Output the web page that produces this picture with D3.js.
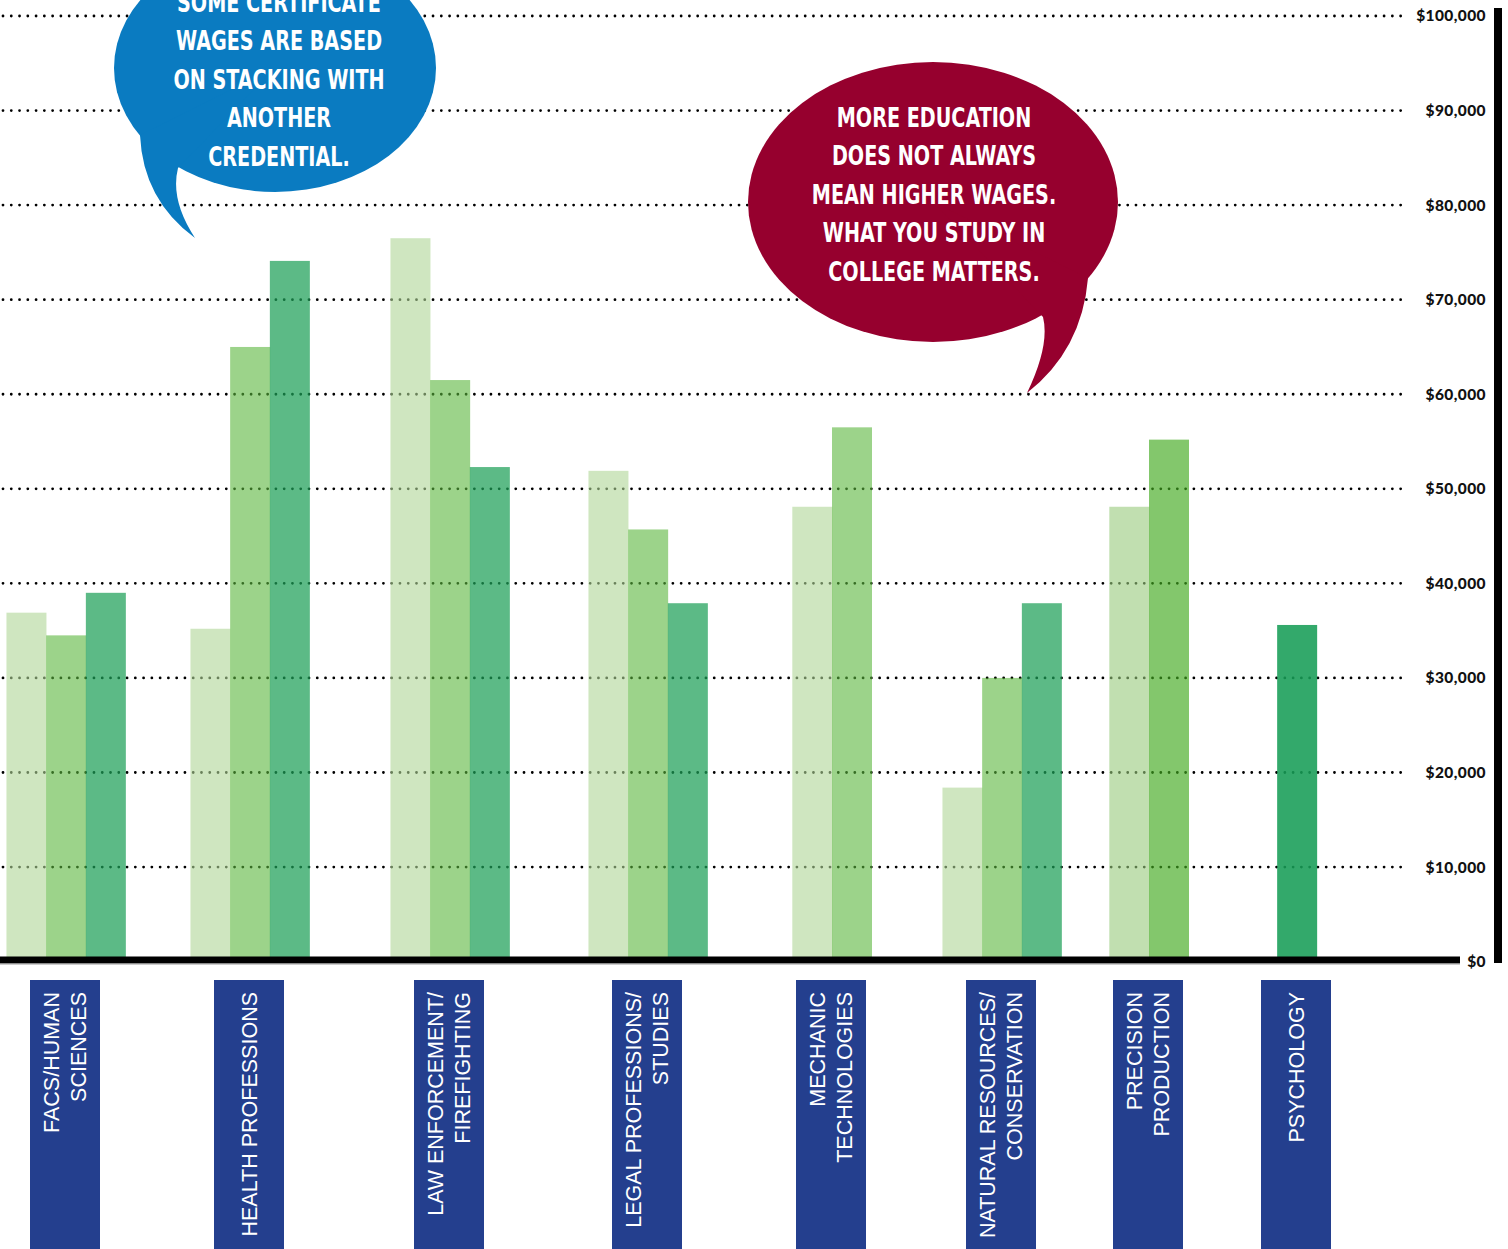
<!DOCTYPE html>
<html>
<head>
<meta charset="utf-8">
<script src="https://cdn.jsdelivr.net/npm/d3@7"></script>
<style>
  body { margin: 0; background: #fff; }
  svg { display: block; }
</style>
</head>
<body>
<svg id="chart" width="1508" height="1249"></svg>
<script>
// datos del grafico (salarios medios por area y nivel)

const categories = ["FACS/HUMAN SCIENCES", "HEALTH PROFESSIONS", "LAW ENFORCEMENT/FIREFIGHTING",
  "LEGAL PROFESSIONS/STUDIES", "MECHANIC TECHNOLOGIES", "NATURAL RESOURCES/CONSERVATION",
  "PRECISION PRODUCTION", "PSYCHOLOGY"];

const labelLines = [
  ["FACS/HUMAN", "SCIENCES"],
  ["HEALTH PROFESSIONS"],
  ["LAW ENFORCEMENT/", "FIREFIGHTING"],
  ["LEGAL PROFESSIONS/", "STUDIES"],
  ["MECHANIC", "TECHNOLOGIES"],
  ["NATURAL RESOURCES/", "CONSERVATION"],
  ["PRECISION", "PRODUCTION"],
  ["PSYCHOLOGY"]
];

const certificate = [36900, 35200, 76500, 51900, 48100, 18400, 48100, null];
const associate   = [34500, 65000, 61500, 45700, 56500, 30000, 55200, null];
const bachelor    = [39000, 74100, 52300, 37900, null, 37900, null, 35600];

const yTicks = [0, 10000, 20000, 30000, 40000, 50000, 60000, 70000, 80000, 90000, 100000];

const blueNote = ["SOME CERTIFICATE", "WAGES ARE BASED", "ON STACKING WITH", "ANOTHER", "CREDENTIAL."];
const redNote = ["MORE EDUCATION", "DOES NOT ALWAYS", "MEAN HIGHER WAGES.", "WHAT YOU STUDY IN", "COLLEGE MATTERS."];

// colores
const seriesColors = ["#cfe6c0", "#9cd38a", "#5cba86"];
const colorOverride = {
  "PRECISION PRODUCTION": ["#c1dfb0", "#82c76c"],
  "PSYCHOLOGY": ["#33a96a"]
};

const svg = d3.select("#chart");

const y = d3.scaleLinear().domain([0, 100000]).range([961.6, 16]);
// los grupos no estan espaciados de forma regular en el original
const x = d3.scaleOrdinal().domain(categories)
  .range([66, 250, 450, 648, 832, 1002, 1149, 1297]);
const barW = 39.7;

// color que, con opacidad a, se ve igual que "target" sobre blanco
function onWhite(target) {
  const c = d3.rgb(target);
  const a = Math.max(0.6, 1 - Math.min(c.r, c.g, c.b) / 255 + 0.08);
  const f = v => Math.max(0, Math.round((v - (1 - a) * 255) / a));
  return { fill: d3.rgb(f(c.r), f(c.g), f(c.b)).formatHex(), alpha: a };
}

// lineas punteadas
svg.append("g").selectAll("line")
  .data(yTicks.filter(d => d > 0))
  .join("line")
  .attr("x1", 3).attr("x2", 1403)
  .attr("y1", d => y(d)).attr("y2", d => y(d))
  .attr("stroke", "#000")
  .attr("stroke-width", 2.8)
  .attr("stroke-linecap", "round")
  .attr("stroke-dasharray", "0 8.27");

// barras
const series = [certificate, associate, bachelor];
const bars = [];
categories.forEach((cat, ci) => {
  const present = [0, 1, 2].filter(s => series[s][ci] != null);
  const over = colorOverride[cat];
  present.forEach((s, k) => {
    bars.push({
      cat: cat,
      value: series[s][ci],
      offset: -present.length * barW / 2 + k * barW,
      color: over ? over[k] : seriesColors[s]
    });
  });
});

svg.append("g").selectAll("rect")
  .data(bars)
  .join("rect")
  .attr("x", d => x(d.cat) + d.offset)
  .attr("y", d => y(d.value))
  .attr("width", barW + 0.3)
  .attr("height", d => y(0) - y(d.value))
  .attr("fill", d => onWhite(d.color).fill)
  .attr("fill-opacity", d => onWhite(d.color).alpha);

// linea base y barra derecha
svg.append("rect").attr("x", 0).attr("y", 956.5).attr("width", 1460).attr("height", 7).attr("fill", "#000");
svg.append("rect").attr("x", 0).attr("y", 963.5).attr("width", 1460).attr("height", 1).attr("fill", "#999");
svg.append("rect").attr("x", 1494).attr("y", 8).attr("width", 8).attr("height", 955).attr("fill", "#000");

// eje y
const axis = svg.append("g")
  .attr("transform", "translate(1486,0)")
  .call(d3.axisLeft(y).tickValues(yTicks).tickFormat(d3.format("$,")).tickSize(0).tickPadding(0));
axis.select(".domain").remove();
axis.selectAll("text")
  .attr("font-family", "Lato, 'Open Sans', sans-serif")
  .attr("font-weight", 900)
  .attr("font-size", 15.5)
  .attr("letter-spacing", 0.4)
  .attr("fill", "#111");

// etiquetas de categorias
const lab = svg.append("g").selectAll("g")
  .data(categories)
  .join("g");

lab.append("rect")
  .attr("x", d => x(d) - 36)
  .attr("y", 980)
  .attr("width", 70)
  .attr("height", 269)
  .attr("fill", "#243f8e");

lab.append("text")
  .attr("transform", d => `translate(${x(d) - 1},992) rotate(-90)`)
  .attr("text-anchor", "end")
  .attr("font-family", "'Liberation Sans', Arial, sans-serif")
  .attr("font-size", 21.5)
  .attr("fill", "#fff")
  .each(function(d, i) {
    const lines = labelLines[i];
    d3.select(this).selectAll("tspan")
      .data(lines)
      .join("tspan")
      .attr("x", 0)
      .attr("y", (l, j) => (j - (lines.length - 1) / 2) * 27 + 0.36 * 21.5)
      .text(l => l);
  });

// globos de texto
function bubble(cx, cy, rx, ry, tail, color, lines, tx, ty) {
  const g = svg.append("g");
  g.append("ellipse")
    .attr("cx", cx).attr("cy", cy).attr("rx", rx).attr("ry", ry)
    .attr("fill", color);
  const p = d3.path();
  p.moveTo(tail[0][0], tail[0][1]);
  p.quadraticCurveTo(tail[1][0], tail[1][1], tail[2][0], tail[2][1]);
  p.quadraticCurveTo(tail[3][0], tail[3][1], tail[4][0], tail[4][1]);
  p.lineTo(cx, cy);
  p.closePath();
  g.append("path").attr("d", p.toString()).attr("fill", color);
  // la fuente original es mas estrecha: se comprime en horizontal
  g.append("text")
    .attr("transform", `translate(${tx},0) scale(0.79,1)`)
    .attr("text-anchor", "middle")
    .attr("font-family", "'DejaVu Sans Condensed', 'Liberation Sans Narrow', sans-serif")
    .attr("font-weight", "bold")
    .attr("font-size", 27)
    .attr("fill", "#fff")
    .selectAll("tspan")
    .data(lines)
    .join("tspan")
    .attr("x", 0)
    .attr("y", (d, i) => ty + i * 38.5)
    .text(d => d);
}

bubble(275, 68, 161, 124,
  [[140, 135], [143, 200], [195, 238], [170, 200], [178, 168]],
  "#0a7bc1", blueNote, 279, 12);

bubble(933, 202, 185, 140,
  [[1088, 278], [1082, 350], [1027, 393], [1050, 345], [1043, 317]],
  "#96002e", redNote, 934, 127);
</script>
</body>
</html>
